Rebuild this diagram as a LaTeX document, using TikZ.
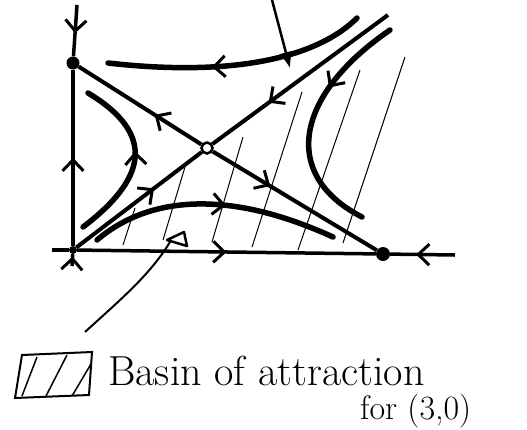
\documentclass[tikz,border=0pt]{standalone}
\usepackage{tikz}
\usetikzlibrary{arrows.meta,decorations.markings}

\begin{document}
\begin{tikzpicture}[x=1pt, y=-1pt,
  midarrow/.style={postaction={decorate,decoration={markings,
    mark=at position #1 with {\arrow{Straight Barb[length=11pt,width=21pt,line width=3pt]}}}}},
  axisline/.style={line width=3.5pt},
  sepline/.style={line width=4pt},
  trajline/.style={line width=5.5pt, line cap=round},
  hatchline/.style={line width=1pt},
  stablept/.style={circle, fill=black, inner sep=0pt, minimum size=#1},
  stablept/.default=13pt,
  saddlept/.style={circle, draw, line width=2.5pt, fill=white, inner sep=0pt, minimum size=11pt}]
  \useasboundingbox (0,0) rectangle (527,429);

  % basin hatching
  \foreach \xa/\ya/\xb/\yb in {135/208/123/245, 185/167/163/240, 243/137/212/242,
                               302/92/252/247, 360/70/298/250, 405/57/343/243}
    \draw[hatchline] (\xa,\ya) -- (\xb,\yb);

  \node[stablept=8pt] (O) at (73,250) {};
  \node[stablept] (P) at (73,63) {};
  \node[saddlept] (S) at (207,148) {};
  \node[stablept=14pt] (Q) at (383,254) {};
  \coordinate (ytop) at (77,5);
  \coordinate (ybot) at (72,266);
  \coordinate (xleft) at (52,250);
  \coordinate (xright) at (455,255);
  \coordinate (utop) at (388,15);

  \draw[axisline, midarrow=0.55] (ytop) -- (P);
  \draw[axisline, midarrow=0.5] (O) -- (P);
  \draw[axisline, midarrow=0.8] (ybot) -- (O);
  \draw[axisline] (xleft) -- (O);
  \draw[axisline, midarrow=0.5] (O) -- (Q);
  \draw[axisline, midarrow=0.6] (xright) -- (Q);

  \draw[sepline, midarrow=0.38] (S) -- (P);
  \draw[sepline, midarrow=0.35] (S) -- (Q);
  \draw[sepline, midarrow=0.62] (O) -- (S);
  \draw[sepline, midarrow=0.68] (utop) -- (S);

  \draw[trajline, midarrow=0.6] (357,18) .. controls (320,55) and (240,78) .. (108,63);
  \draw[trajline, midarrow=0.55] (83,227) .. controls (145,180) and (158,135) .. (88,93);
  \draw[trajline, midarrow=0.35] (390,30) .. controls (295,95) and (280,175) .. (362,217);
  \draw[trajline, midarrow=0.55] (97,240) .. controls (150,195) and (230,190) .. (333,237);

  % pointers
  \coordinate (topnote) at (272,0);
  \coordinate (topend) at (290,68);
  \draw[line width=2.5pt, -{Latex[length=16pt,width=14pt]}] (topnote) -- (topend);
  \coordinate (lownote) at (85,332);
  \coordinate (lowend) at (170,242);
  \draw[line width=2pt] (lownote) .. controls (120,300) and (150,275) .. (lowend);
  \draw[line width=2.5pt, line join=round] (167,240) -- (184,232) -- (187,246) -- cycle;

  % legend
  \draw[line width=2pt] (22,355) -- (92,352) -- (89,395) -- (15,398) -- cycle;
  \foreach \xa/\ya/\xb/\yb in {37/357/22/396, 67/355/46/396, 91/364/72/396}
    \draw[line width=1.5pt] (\xa,\ya) -- (\xb,\yb);
  \node[anchor=base west, inner sep=0pt, font=\fontsize{42}{46}\selectfont] (legtext) at (108,385) {Basin of attraction};
  \node[anchor=base west, inner sep=0pt, font=\fontsize{34}{40}\selectfont] (legfor) at (360,419) {for (3,0)};
\end{tikzpicture}
\end{document}
